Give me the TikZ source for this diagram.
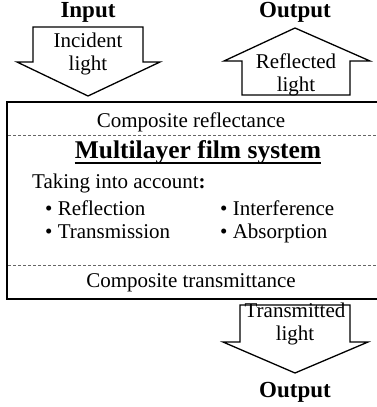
\documentclass[tikz,border=0pt]{standalone}
\usepackage{fontspec}
\setmainfont{Liberation Serif}
\begin{document}
\begin{tikzpicture}[x=1pt,y=-1pt,
  txt/.style={inner sep=0pt,anchor=base,font=\fontsize{21}{24}\selectfont},
  btxt/.style={inner sep=0pt,anchor=base,font=\fontsize{23}{26}\selectfont\bfseries},
  ltxt/.style={inner sep=0pt,anchor=base west,font=\fontsize{21}{24}\selectfont},
  arr/.style={draw=black,line width=1.3pt,line join=miter,fill=white},
  dotline/.style={draw=black!60,line width=1pt,dash pattern=on 2.5pt off 2.5pt}]
\useasboundingbox (0,0) rectangle (376,407);
% main box
\draw[line width=2.2pt] (7,102) rectangle (380,299);
\coordinate (d1l) at (8,135); \coordinate (d1r) at (376,135);
\coordinate (d2l) at (8,265); \coordinate (d2r) at (376,265);
\draw[dotline] (d1l) -- (d1r);
\draw[dotline] (d2l) -- (d2r);
% arrows
\draw[arr] (33,27) -- (143,27) -- (143,62) -- (160,62) -- (88,96) -- (17,62) -- (33,62) -- cycle;
\draw[arr] (242,95) -- (350,95) -- (350,61) -- (370,61) -- (295,28) -- (224,61) -- (242,61) -- cycle;
\draw[arr] (240,305) -- (350,305) -- (350,342) -- (368,342) -- (295,373) -- (223,342) -- (240,342) -- cycle;
% labels
\node[btxt] (in) at (88,17) {Input};
\node[btxt] (out1) at (295,17) {Output};
\node[btxt] (out2) at (295,397) {Output};
\node[txt] (inc1) at (88,47) {Incident};
\node[txt] (inc2) at (88,70) {light};
\node[txt] (ref1) at (296,68) {Reflected};
\node[txt] (ref2) at (296,91) {light};
\node[txt] (tr1) at (295,317) {Transmitted};
\node[txt] (tr2) at (295,340) {light};
\node[txt] (cr) at (191,127) {Composite reflectance};
\node[inner sep=0pt,anchor=base,font=\fontsize{25.5}{28}\selectfont\bfseries] (mls) at (198,158) {Multilayer film system};
\draw[line width=1.5pt] ([yshift=-5pt]mls.base west) -- ([yshift=-5pt]mls.base east);
\node[ltxt] (take) at (32,188) {Taking into account\textbf{:}};
\node[ltxt] (b1) at (45,215) {\textbullet\ Reflection};
\node[ltxt] (b2) at (45,238) {\textbullet\ Transmission};
\node[ltxt] (b3) at (220,215) {\textbullet\ Interference};
\node[ltxt] (b4) at (220,238) {\textbullet\ Absorption};
\node[txt] (ct) at (191,287) {Composite transmittance};
\end{tikzpicture}
\end{document}
